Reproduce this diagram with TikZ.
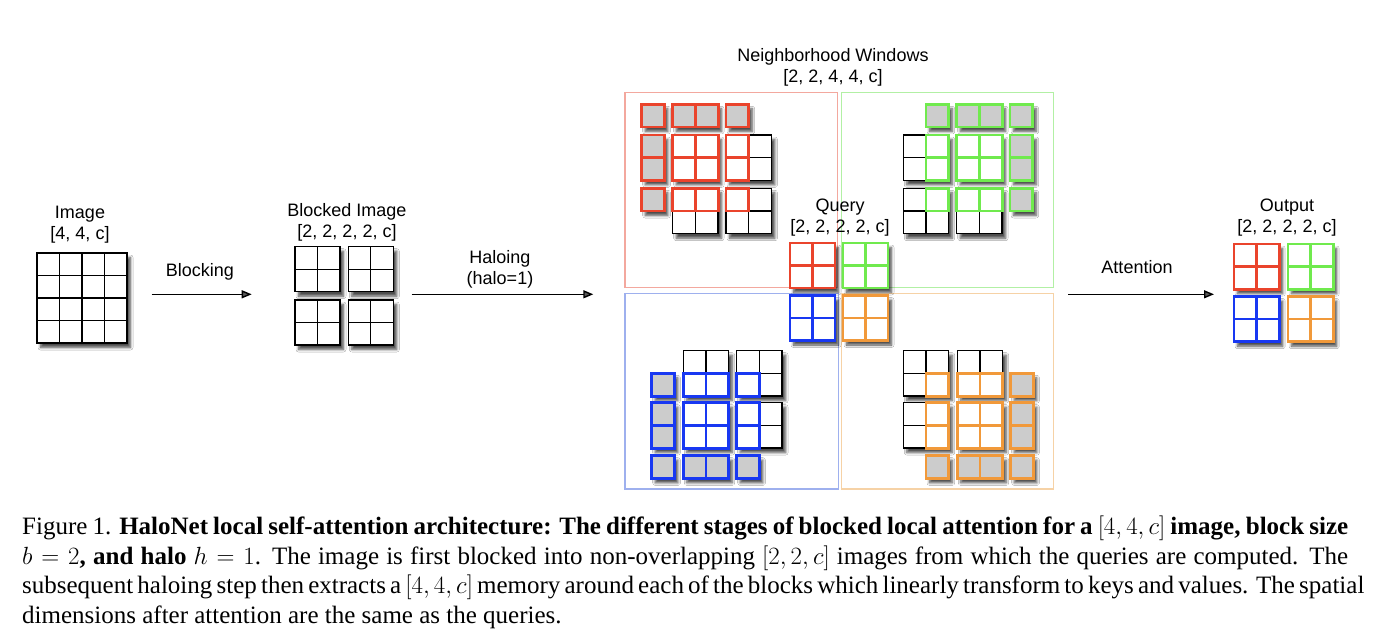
\documentclass[tikz,border=0pt]{standalone}
\usepackage{fontspec}
\setmainfont{Liberation Serif}
\newfontfamily\diagfont{Liberation Sans}
\usetikzlibrary{arrows.meta,shadows.blur}
\definecolor{cred}{RGB}{234,68,44}
\definecolor{cgreen}{RGB}{112,234,78}
\definecolor{cblue}{RGB}{24,56,242}
\definecolor{corange}{RGB}{241,153,58}
\definecolor{hgrey}{RGB}{204,204,204}
\definecolor{lred}{RGB}{243,168,158}
\definecolor{lgreen}{RGB}{178,240,164}
\definecolor{lblue}{RGB}{158,176,238}
\definecolor{lorange}{RGB}{246,210,166}
\def\cs{22.7}
\newcommand\cellblock[6]{%
  \fill[#2] ({#3},{#4}) rectangle ++({#5*\cs},{#6*\cs});
  \foreach \ci in {1,...,#5}{\foreach \cj in {1,...,#6}{%
    \draw[#1] ({#3+(\ci-1)*\cs},{#4+(\cj-1)*\cs}) rectangle ++(\cs,\cs);}}%
}
\newcommand\blackblk[2]{\cellblock{blackline}{fill=white,shadowed}{#1}{#2}{2}{2}}
\newcommand\ovl[5]{\cellblock{colline=#1}{fill=white}{#2}{#3}{#4}{#5}}
\newcommand\halo[5]{\cellblock{colline=#1}{fill=hgrey,shadowed}{#2}{#3}{#4}{#5}}
\newcommand\qblk[3]{\cellblock{colline=#1}{fill=white,shadowed}{#2}{#3}{2}{2}}
\newcommand\captionfont{\fontsize{25}{29.5}\selectfont}
\begin{document}
\begin{tikzpicture}[x=1pt,y=-1pt,
  shadowed/.style={blur shadow={shadow xshift=3.5pt,shadow yshift=-4.5pt,shadow blur radius=2.5pt,shadow blur steps=6,shadow opacity=70}},
  blackline/.style={draw=black,line width=1.3pt},
  colline/.style={draw=#1,line width=2.8pt},
  winbox/.style={draw=#1,line width=1.2pt},
  lbl/.style={font=\diagfont\fontsize{18}{21}\selectfont,align=center,inner sep=0pt},
  arr/.style={-{Triangle[length=10pt,width=8pt]},line width=1.4pt}]
\fill[white] (0,0) rectangle (1382,644);
\useasboundingbox (0,0) rectangle (1382,644);

% ---------- image ----------
\def\cs{22.5}
\cellblock{blackline}{fill=white,shadowed}{37}{253}{4}{4}
\node[lbl] (imglbl) at (80,224.4) {Image\\{[4, 4, c]}};

\coordinate (blkS) at (151.7,294.3);
\coordinate (blkE) at (251.7,294.3);
\draw[arr] (blkS) -- (blkE);
\node[lbl] (blklbl) at (200,271.9) {Blocking};

% ---------- blocked image ----------
\cellblock{blackline}{fill=white,shadowed}{295}{246.7}{2}{2}
\cellblock{blackline}{fill=white,shadowed}{348.3}{246.7}{2}{2}
\cellblock{blackline}{fill=white,shadowed}{295}{300}{2}{2}
\cellblock{blackline}{fill=white,shadowed}{348.3}{300}{2}{2}
\node[lbl] (bimglbl) at (347,222.4) {Blocked Image\\{[2, 2, 2, 2, c]}};

\coordinate (haloS) at (411.7,294.3);
\coordinate (haloE) at (593.3,294.3);
\draw[arr] (haloS) -- (haloE);
\node[lbl] (halolbl) at (500,269) {Haloing\\{(halo=1)}};

% ---------- neighborhood windows ----------
\node[lbl] (nwlbl) at (833,67.4) {Neighborhood Windows\\{[2, 2, 4, 4, c]}};
\draw[winbox=lred] (625,92.3) rectangle (837.3,287.7);
\draw[winbox=lgreen] (841.7,92.3) rectangle (1053.3,287.7);
\draw[winbox=lblue] (625,293.3) rectangle (838.3,489);
\draw[winbox=lorange] (841.7,293.3) rectangle (1053.3,489);

\def\cs{22.7}
% red window
\blackblk{672.7}{135} \ovl{cred}{672.7}{135}{2}{2}
\blackblk{726}{135} \ovl{cred}{726}{135}{1}{2}
\blackblk{672.7}{188.3} \ovl{cred}{672.7}{188.3}{2}{1}
\blackblk{726}{188.3} \ovl{cred}{726}{188.3}{1}{1}
\halo{cred}{641.7}{104.3}{1}{1}
\halo{cred}{672.7}{104.3}{2}{1}
\halo{cred}{726}{104.3}{1}{1}
\halo{cred}{641.7}{135}{1}{2}
\halo{cred}{641.7}{188.3}{1}{1}
% green window
\blackblk{903.3}{135} \ovl{cgreen}{926}{135}{1}{2}
\blackblk{956.7}{135} \ovl{cgreen}{956.7}{135}{2}{2}
\blackblk{903.3}{188.3} \ovl{cgreen}{926}{188.3}{1}{1}
\blackblk{956.7}{188.3} \ovl{cgreen}{956.7}{188.3}{2}{1}
\halo{cgreen}{926}{104.3}{1}{1}
\halo{cgreen}{956.7}{104.3}{2}{1}
\halo{cgreen}{1010}{104.3}{1}{1}
\halo{cgreen}{1010}{135}{1}{2}
\halo{cgreen}{1010}{188.3}{1}{1}
% blue window
\blackblk{683.3}{350.7} \ovl{cblue}{683.3}{373.4}{2}{1}
\blackblk{736.7}{350.7} \ovl{cblue}{736.7}{373.4}{1}{1}
\blackblk{683.3}{402.7} \ovl{cblue}{683.3}{402.7}{2}{2}
\blackblk{736.7}{402.7} \ovl{cblue}{736.7}{402.7}{1}{2}
\halo{cblue}{651.7}{373.4}{1}{1}
\halo{cblue}{651.7}{402.7}{1}{2}
\halo{cblue}{651.7}{455.7}{1}{1}
\halo{cblue}{683.3}{455.7}{2}{1}
\halo{cblue}{736.7}{455.7}{1}{1}
% orange window
\blackblk{903.3}{350.7} \ovl{corange}{926}{373.4}{1}{1}
\blackblk{957.3}{350.7} \ovl{corange}{957.3}{373.4}{2}{1}
\blackblk{903.3}{402.7} \ovl{corange}{926}{402.7}{1}{2}
\blackblk{957.3}{402.7} \ovl{corange}{957.3}{402.7}{2}{2}
\halo{corange}{1010.7}{373.4}{1}{1}
\halo{corange}{1010.7}{402.7}{1}{2}
\halo{corange}{926}{455.7}{1}{1}
\halo{corange}{957.3}{455.7}{2}{1}
\halo{corange}{1010.7}{455.7}{1}{1}

% ---------- query ----------
\def\cs{22.5}
\node[lbl] (qlbl) at (840,217.4) {Query\\{[2, 2, 2, 2, c]}};
\qblk{cred}{790}{243}
\qblk{cgreen}{843}{243}
\qblk{cblue}{790}{295.5}
\qblk{corange}{843}{295.5}

\coordinate (attS) at (1068.3,294.3);
\coordinate (attE) at (1214,294.3);
\draw[arr] (attS) -- (attE);
\node[lbl] (attlbl) at (1137,267) {Attention};

% ---------- output ----------
\def\cs{22.6}
\node[lbl] (outlbl) at (1287,217.4) {Output\\{[2, 2, 2, 2, c]}};
\qblk{cred}{1234}{244}
\qblk{cgreen}{1288}{244}
\qblk{cblue}{1234}{296.5}
\qblk{corange}{1288}{296.5}

% ---------- caption ----------
\node[anchor=north west,inner sep=0pt,font=\captionfont] (caption) at (22,516) {\vbox{%
\hbox to 1326pt{Figure 1. \textbf{HaloNet local self-attention architecture: The different stages of blocked local attention for a $[4,4,c]$ image, block size}}%
\hbox to 1326pt{$b=2$\textbf{, and halo} $h=1$. The image is first blocked into non-overlapping $[2,2,c]$ images from which the queries are computed. The}%
\hbox to 1326pt{subsequent haloing step then extracts a $[4,4,c]$ memory around each of the blocks which linearly transform to keys and values. The spatial}%
\hbox{dimensions after attention are the same as the queries.}}};
\end{tikzpicture}
\end{document}
